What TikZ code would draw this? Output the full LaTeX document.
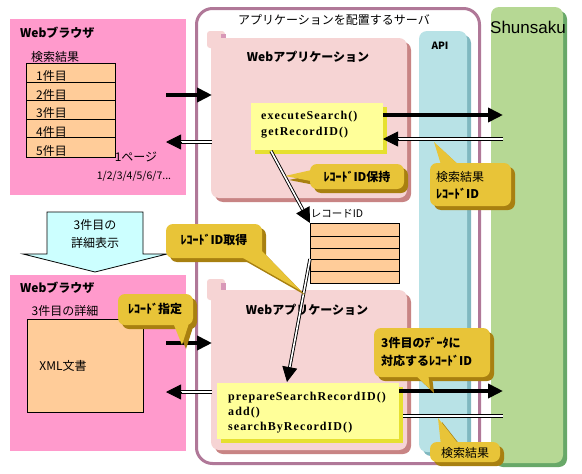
\documentclass[tikz,border=0pt]{standalone}
\usepackage{fontspec}
\setmainfont{Noto Sans CJK JP}
\newfontfamily\codefont{Liberation Serif}[LetterSpace=9]
\newfontfamily\shfont{Liberation Sans}
\usetikzlibrary{arrows.meta,shadows,calc}
\definecolor{brpink}{HTML}{FF9ACC}
\definecolor{peach}{HTML}{FFCC99}
\definecolor{srvline}{HTML}{B07898}
\definecolor{wapink}{HTML}{F6D4D4}
\definecolor{wash}{HTML}{C88484}
\definecolor{tabdark}{HTML}{D898B8}
\definecolor{ybox}{HTML}{FFFF99}
\definecolor{yboxsh}{HTML}{E6E030}
\definecolor{gold}{HTML}{E8C438}
\definecolor{goldsh}{HTML}{A88010}
\definecolor{apic}{HTML}{B8E2E6}
\definecolor{apish}{HTML}{80B8C0}
\definecolor{shunc}{HTML}{B6D894}
\definecolor{shunsh}{HTML}{68A868}
\definecolor{blockc}{HTML}{CCFFFF}
\newcommand\mycallout[5]{%
  \fill[goldsh, rounded corners=7pt, shift={(4,4)}] #1 rectangle #2;
  \fill[goldsh, shift={(4,4)}] #3 -- #4 -- #5 -- cycle;
  \fill[gold, rounded corners=7pt] #1 rectangle #2;
  \fill[gold] #3 -- #4 -- #5 -- cycle;}
\newcommand\mydblarrow[2]{%
  \draw[dblline, shorten >=13pt] (#1) -- (#2);
  \draw[tipst] ($(#2)!15pt!(#1)$) -- (#2);}
\begin{document}
\begin{tikzpicture}[x=1pt,y=-1pt,
  rect/.style={inner sep=0pt, outer sep=0pt, anchor=north west},
  jp/.style={font=\fontsize{12}{14}\selectfont, inner sep=0pt},
  jps/.style={font=\fontsize{10.5}{12}\selectfont, inner sep=0pt},
  jpb/.style={font=\fontsize{12}{15}\selectfont\bfseries, inner sep=0pt},
  code/.style={font=\fontsize{12}{15}\selectfont\codefont\bfseries, inner sep=0pt, anchor=west},
  solidarrow/.style={line width=4pt, -{Triangle[length=15pt,width=14pt]}},
  tipst/.style={line width=0.9pt, -{Triangle[length=15pt,width=15pt]}},
  dblline/.style={double, double distance=1.6pt, line width=0.9pt},
  tbl/.style={rect, fill=peach, draw=black, line width=0.9pt},
  wabox/.style={rect, fill=wapink, rounded corners=8pt, general shadow={fill=wash, shadow xshift=4pt, shadow yshift=-4pt}},
  ybx/.style={rect, fill=ybox, general shadow={fill=yboxsh, shadow xshift=4pt, shadow yshift=-4pt}}
]
\useasboundingbox (0,0) rectangle (582,474);
\fill[white] (0,0) rectangle (582,474);

% ---------- browsers ----------
\node[rect, fill=brpink, minimum width=176pt, minimum height=176pt] (b1) at (10,19) {};
\node[rect, fill=brpink, minimum width=176pt, minimum height=176pt] (b2) at (10,275) {};

% ---------- server frame ----------
\node[rect, draw=srvline, line width=3pt, rounded corners=16pt, minimum width=283pt, minimum height=455pt] (srv) at (196.5,8.5) {};
\node[jp] (srvt) at (334,20) {アプリケーションを配置するサーバ};

% ---------- web applications ----------
\fill[wapink, rounded corners=3pt] (207,31) rectangle (225,48);
\fill[tabdark] (221,34) rectangle (226,38);
\node[wabox, minimum width=196pt, minimum height=160pt] (wa1) at (211,38) {};
\fill[wapink, rounded corners=3pt] (207,279) rectangle (225,300);
\fill[tabdark] (221,283) rectangle (226,290);
\node[wabox, minimum width=196pt, minimum height=160pt] (wa2) at (211,290) {};
\node[jpb] (wa1t) at (308,57) {Webアプリケーション};
\node[jpb] (wa2t) at (307,310) {Webアプリケーション};

% ---------- API and Shunsaku ----------
\node[rect, fill=apic, rounded corners=8pt, general shadow={fill=apish, shadow xshift=4pt, shadow yshift=-4pt}, minimum width=48pt, minimum height=421pt] (api) at (419,31) {};
\node[jpb, font=\fontsize{10}{12}\selectfont\bfseries] (apit) at (440,46) {API};
\node[rect, fill=shunc, rounded corners=8pt, general shadow={fill=shunsh, shadow xshift=4pt, shadow yshift=-4pt}, minimum width=72pt, minimum height=456pt] (shun) at (491,7) {};
\node[inner sep=0pt, font=\fontsize{17}{20}\selectfont\shfont] (shunt) at (528,27) {Shunsaku};

% ---------- browser 1 contents ----------
\node[jpb, anchor=west] (b1t) at (20,33) {Webブラウザ};
\node[jp] (kk) at (55,57) {検索結果};
\node[tbl, minimum width=89pt, minimum height=94pt] (t1) at (26,63) {};
\foreach \yy in {82,100,119,137} \draw[line width=0.9pt] (t1.west |- 0,\yy) -- (t1.east |- 0,\yy);
\node[jp, anchor=west] (r1) at (36,76) {1件目};
\node[jp, anchor=west] (r2) at (36,95) {2件目};
\node[jp, anchor=west] (r3) at (36,113) {3件目};
\node[jp, anchor=west] (r4) at (36,132) {4件目};
\node[jp, anchor=west] (r5) at (36,151) {5件目};
\node[jp] (page) at (136,157) {1ページ};
\node[jp, font=\fontsize{10.5}{12}\selectfont] (pages) at (134,176) {1/2/3/4/5/6/7...};

% ---------- browser 2 contents ----------
\node[jpb, anchor=west] (b2t) at (20,288) {Webブラウザ};
\node[jp] (det) at (65,311) {3件目の詳細};
\node[tbl, minimum width=116pt, minimum height=93pt] (xml) at (27,319) {};
\node[jp] (xmlt) at (63,366) {XML文書};

% ---------- block arrow ----------
\draw[fill=blockc, line width=0.8pt] (47,212) -- (143,212) -- (143,254) -- (167,254) -- (95,272) -- (23,254) -- (47,254) -- cycle;
\node[jp, align=center, font=\fontsize{12}{18}\selectfont] (blk) at (95,234) {3件目の\\詳細表示};

% ---------- yellow boxes ----------
\node[ybx, minimum width=132pt, minimum height=47pt] (y1) at (251,103) {};
\node[code] (c1) at (261,117) {executeSearch()};
\node[code] (c2) at (261,133) {getRecordID()};
\node[ybx, minimum width=182pt, minimum height=56pt] (y2) at (217,383) {};
\node[code] (c3) at (228,398) {prepareSearchRecordID()};
\node[code] (c4) at (228,413) {add()};
\node[code] (c5) at (228,428) {searchByRecordID()};

% ---------- record ID table ----------
\node[jps] (t2t) at (337,214) {レコードID};
\node[tbl, minimum width=89pt, minimum height=60pt] (t2) at (310,223) {};
\foreach \yy in {236,248,259,271} \draw[line width=0.9pt] (t2.west |- 0,\yy) -- (t2.east |- 0,\yy);

% ---------- connectors ----------
\coordinate (p1) at (166,95);   \coordinate (p2) at (212,95);
\coordinate (p3) at (212,142);  \coordinate (p4) at (166,142);
\coordinate (p5) at (503,115);  \coordinate (p6) at (503,139);
\coordinate (p7) at (166,343);  \coordinate (p8) at (212,343);
\coordinate (p9) at (212,392);  \coordinate (p10) at (166,392);
\coordinate (p11) at (503,391); \coordinate (p12) at (503,416);
\coordinate (q1) at (271,151);  \coordinate (q2) at (310,259);
\coordinate (q3) at (287,382);
\coordinate (y1e5) at (y1.east |- p5);
\coordinate (y1e6) at (y1.east |- p6);
\coordinate (y2e11) at (y2.east |- p11);
\coordinate (y2e12) at ([xshift=4pt]y2.east |- p12);
\draw[solidarrow] (p1) -- (p2);
\mydblarrow{p3}{p4}
\draw[solidarrow] (y1e5) -- (p5);
\mydblarrow{p6}{y1e6}
\draw[solidarrow] (p7) -- (p8);
\mydblarrow{p9}{p10}
\draw[solidarrow] (y2e11) -- (p11);
\draw[dblline] (p12) -- (y2e12);
\mydblarrow{q1}{t2.north west}
\mydblarrow{q2}{q3}

% ---------- callouts ----------
\mycallout{(310,164)}{(404,189)}{(285,176)}{(316,169)}{(316,182)}
\node[jpb] (k1) at (357,177) {ﾚｺｰﾄﾞID保持};
\mycallout{(430,163)}{(511,206)}{(434,142)}{(442,168)}{(462,168)}
\node[jp, anchor=west] (k2a) at (436,177) {検索結果};
\node[jpb, anchor=west] (k2b) at (436,194) {ﾚｺｰﾄﾞID};
\mycallout{(166,224)}{(262,258)}{(301,291)}{(236,254)}{(258,247)}
\node[jpb] (k3) at (214,240) {ﾚｺｰﾄﾞID取得};
\mycallout{(118,294)}{(193,325)}{(182,345)}{(172,320)}{(190,320)}
\node[jpb] (k4) at (155,309) {ﾚｺｰﾄﾞ指定};
\mycallout{(374,328)}{(490,377)}{(430,389)}{(412,372)}{(428,372)}
\node[jpb, anchor=west] (k5a) at (381,343) {3件目のﾃﾞｰﾀに};
\node[jpb, anchor=west] (k5b) at (381,361) {対応するﾚｺｰﾄﾞID};
\mycallout{(430,442)}{(500,462)}{(438,418)}{(441,446)}{(460,446)}
\node[jp] (k6) at (465,453) {検索結果};
\end{tikzpicture}
\end{document}
